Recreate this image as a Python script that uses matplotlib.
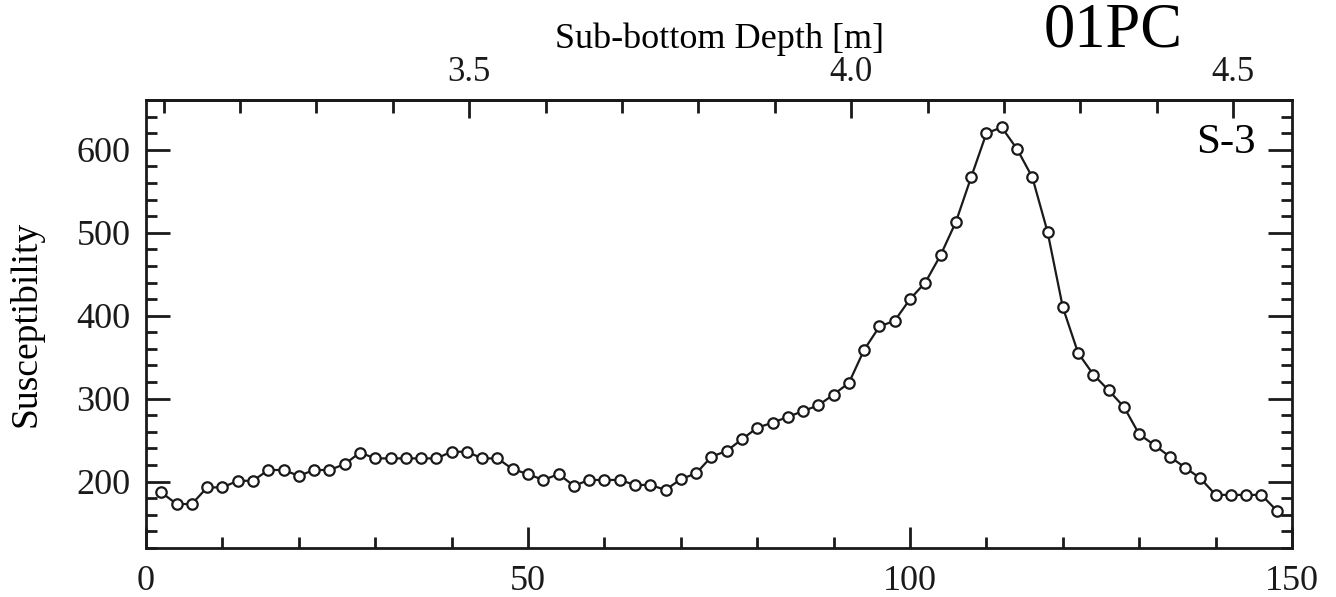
import numpy as np
import matplotlib.pyplot as plt
from matplotlib.ticker import MultipleLocator, FixedLocator

plt.rcParams['font.family'] = ['Liberation Serif', 'DejaVu Serif']

# sample position (cm along section) and susceptibility
pos = np.arange(2, 150, 2)
susc = [187, 173, 173, 193, 193, 201, 201, 214, 214, 207,
        214, 214, 221, 235, 228, 228, 228, 228, 228, 236,
        236, 228, 228, 215, 209, 202, 209, 195, 202, 202,
        202, 196, 196, 190, 203, 210, 230, 237, 251, 265,
        271, 278, 285, 292, 305, 319, 359, 387, 394, 420,
        440, 473, 513, 567, 620, 627, 601, 567, 501, 410,
        355, 329, 310, 290, 257, 244, 230, 217, 204, 184,
        184, 184, 184, 165]

depth_offset = 3.077  # m, sub-bottom depth at position 0
depth_major = [3.5, 4.0, 4.5]
depth_labels = ["3.5", "4.0", "4.5"]
depth_minor = np.round(np.arange(3.1, 4.55, 0.1), 2)

fig = plt.figure(figsize=(13.36, 5.97), dpi=100)
ax = fig.add_axes([0.1093, 0.0821, 0.8578, 0.7504])

ax.plot(pos, susc, color="#1a1a1a", lw=1.6, marker="o", ms=7.5,
        mfc="white", mec="#1a1a1a", mew=1.6)

ax.set_xlim(0, 150)
ax.set_ylim(120, 660)
ax.xaxis.set_major_locator(FixedLocator([0, 50, 100, 150]))
ax.xaxis.set_minor_locator(MultipleLocator(10))
ax.yaxis.set_major_locator(FixedLocator([200, 300, 400, 500, 600]))
ax.yaxis.set_minor_locator(MultipleLocator(20))
ax.tick_params(which="both", direction="in", top=False, right=True, width=2, colors="#1a1a1a")
ax.tick_params(which="major", length=17, labelsize=26, pad=11)
ax.tick_params(axis="x", which="major", length=15, pad=12)
ax.tick_params(which="minor", length=8)
for s in ax.spines.values():
    s.set_linewidth(2)
    s.set_color("#1a1a1a")

ax.set_ylabel("Susceptibility", fontsize=27, labelpad=24)

sec = ax.secondary_xaxis("top", functions=(lambda x: depth_offset + x / 100,
                                           lambda d: (d - depth_offset) * 100))
sec.xaxis.set_major_locator(FixedLocator(depth_major))
sec.set_xticklabels(depth_labels)
sec.xaxis.set_minor_locator(FixedLocator(depth_minor))
sec.tick_params(which="both", direction="in", width=2, colors="#1a1a1a")
sec.tick_params(which="major", length=13, labelsize=25, pad=8)
sec.tick_params(which="minor", length=9)
sec.spines["top"].set_linewidth(2)
sec.set_xlabel("Sub-bottom Depth [m]", fontsize=26, labelpad=6)

fig.text(0.833, 0.948, "01PC", fontsize=45, ha="center", va="center")
ax.text(0.968, 0.905, "S-3", transform=ax.transAxes, fontsize=31, ha="right", va="center")

fig.savefig("out.png", dpi=100, facecolor="white")
